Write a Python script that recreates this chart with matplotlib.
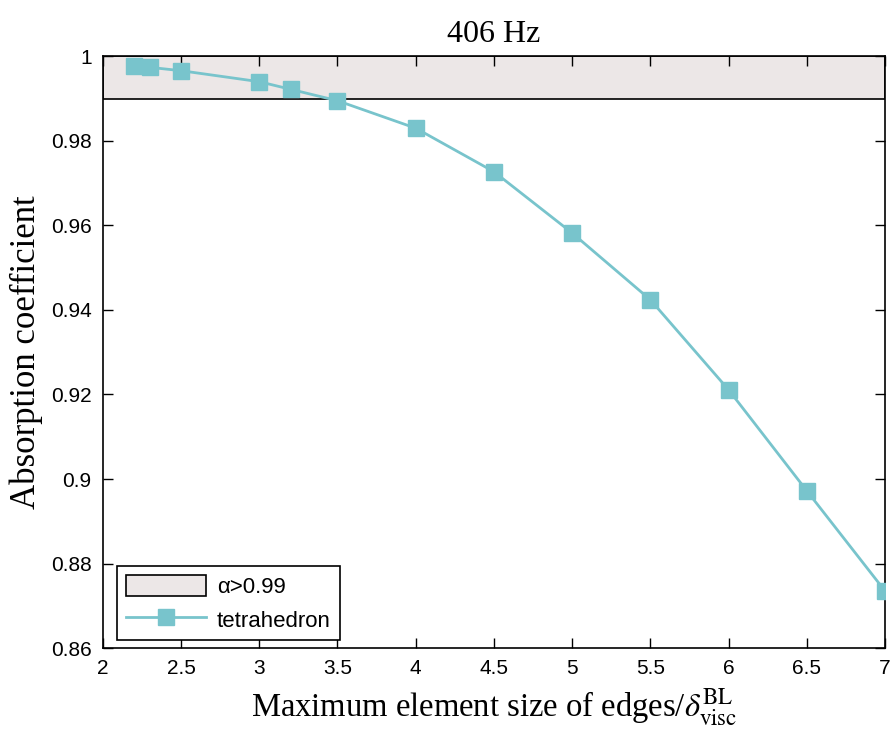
import matplotlib
matplotlib.use("Agg")
import matplotlib.pyplot as plt
from matplotlib.patches import Patch
from matplotlib.lines import Line2D

# element size (edges / BL thickness) vs absorption coefficient @ 406 Hz
size = [2.2, 2.3, 2.5, 3.0, 3.2, 3.5, 4.0, 4.5, 5.0, 5.5, 6.0, 6.5, 7.0]
alpha = [0.9977, 0.9974, 0.9966, 0.9940, 0.9922, 0.9895, 0.9830,
         0.9727, 0.9582, 0.9424, 0.9211, 0.8972, 0.8735]
band_lo, band_hi = 0.99, 1.0
xticks = [2, 2.5, 3, 3.5, 4, 4.5, 5, 5.5, 6, 6.5, 7]
yticks = [0.86, 0.88, 0.9, 0.92, 0.94, 0.96, 0.98, 1.0]
ytick_labels = ["0.86", "0.88", "0.9", "0.92", "0.94", "0.96", "0.98", "1"]

LINE = "#78c4cc"
BAND = "#ece7e7"
plt.rcParams["mathtext.fontset"] = "stix"

fig = plt.figure(figsize=(8.94, 7.51), dpi=100)
ax = fig.add_axes([0.115, 0.137, 0.875, 0.788])

ax.axhspan(band_lo, band_hi, facecolor=BAND, edgecolor="black", lw=1.2, zorder=1)
ax.plot(size, alpha, "s-", color=LINE, lw=2, ms=12, zorder=3)

ax.set_xlim(2, 7)
ax.set_ylim(0.86, 1.0)
ax.set_xticks(xticks)
ax.set_xticklabels([f"{t:g}" for t in xticks])
ax.set_yticks(yticks)
ax.set_yticklabels(ytick_labels)
ax.tick_params(direction="in", top=True, right=True, length=7, width=1,
               labelsize=15, pad=8)
for lab in ax.get_xticklabels() + ax.get_yticklabels():
    lab.set_fontfamily("Liberation Sans")
for sp in ax.spines.values():
    sp.set_linewidth(1.2)

ax.set_title("406 Hz", fontsize=23, family="Liberation Serif", pad=10)
ax.set_ylabel("Absorption coefficient", fontsize=25, family="Liberation Serif", labelpad=6)
ax.set_xlabel(r"Maximum element size of edges/$\delta_{\mathrm{visc}}^{\mathrm{BL}}$",
              fontsize=23.5, family="Liberation Serif", labelpad=6)

handles = [Patch(facecolor=BAND, edgecolor="black", lw=1.2, label=r"α>0.99"),
           Line2D([], [], color=LINE, lw=2, marker="s", ms=12, label="tetrahedron")]
leg = ax.legend(handles=handles, loc="lower left", bbox_to_anchor=(0.018, 0.013),
                fancybox=False, edgecolor="black",
                prop={"family": "Liberation Sans", "size": 16}, handlelength=3.6,
                handleheight=1.1, labelspacing=0.45, handletextpad=0.5,
                borderpad=0.4, borderaxespad=0, framealpha=1)
leg.get_frame().set_linewidth(1.2)

fig.savefig("out.png", dpi=100)
